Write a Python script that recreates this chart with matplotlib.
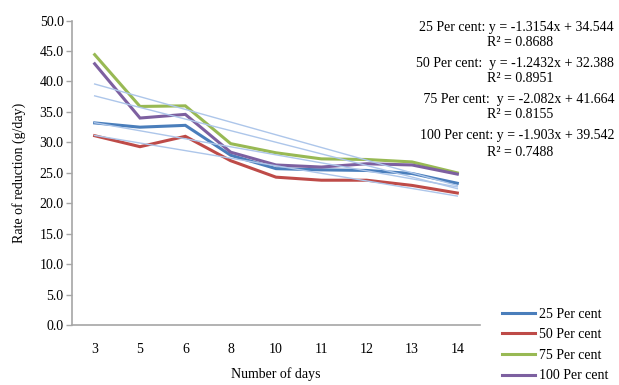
import matplotlib
matplotlib.use("Agg")
import matplotlib.pyplot as plt
import numpy as np

days = ["3", "5", "6", "8", "10", "11", "12", "13", "14"]
series_names = ["25 Per cent", "50 Per cent", "75 Per cent", "100 Per cent"]
s25 = [33.2, 32.5, 32.8, 27.9, 25.7, 25.5, 25.4, 24.9, 23.3]
s50 = [31.1, 29.3, 31.0, 27.0, 24.3, 23.8, 23.8, 22.95, 21.7]
s75 = [44.4, 35.9, 36.0, 29.8, 28.3, 27.3, 27.2, 26.8, 25.0]
s100 = [42.9, 34.0, 34.6, 28.4, 26.3, 25.96, 26.5, 26.3, 24.8]
slopes = [-1.3154, -1.2432, -2.082, -1.903]
intercepts = [34.544, 32.388, 41.664, 39.542]
r2 = ["0.8688", "0.8951", "0.8155", "0.7488"]
eq_labels = ["25 Per cent: y = -1.3154x + 34.544",
             "50 Per cent:  y = -1.2432x + 32.388",
             " 75 Per cent:  y = -2.082x + 41.664",
             "100 Per cent: y = -1.903x + 39.542"]

colors = ["#4a7ebb", "#be4b48", "#98b954", "#7d60a0"]
trend_color = "#adc6ea"

plt.rcParams['font.family'] = ['Liberation Serif', 'DejaVu Serif']
FS = 10

fig = plt.figure(figsize=(6.19, 3.85), dpi=100)
W, H = 619, 385
ax = fig.add_axes([72 / W, 1 - 325.3 / H, (480 - 72) / W, (325.3 - 20.5) / H])

x = np.arange(len(days))
all_series = [s25, s50, s75, s100]
lines = []
for s, c, n in zip(all_series, colors, series_names):
    l, = ax.plot(x, s, color=c, lw=2.2, label=n, zorder=3, solid_joinstyle='miter')
    lines.append(l)
xi = x + 1
for m, b in zip(slopes, intercepts):
    ax.plot(x, m * xi + b, color=trend_color, lw=1.0, zorder=4)

ax.set_xlim(-0.5, len(days) - 0.5)
ax.set_ylim(0, 50)
ax.set_yticks(np.arange(0, 50.1, 5))
ax.set_yticklabels([f"{v:.1f}" for v in np.arange(0, 50.1, 5)], fontsize=FS)
ax.set_xticks(x)
ax.set_xticklabels(days, fontsize=FS)
ax.tick_params(axis='x', length=0, pad=13)
ax.tick_params(axis='y', length=4, color='#a6a6a6', width=1, pad=2)
for sp in ["top", "right"]:
    ax.spines[sp].set_visible(False)
for sp in ["left", "bottom"]:
    ax.spines[sp].set_color('#a6a6a6')
    ax.spines[sp].set_linewidth(1.2)

ax.set_ylabel("Rate of reduction (g/day)", fontsize=FS, labelpad=10)
ax.set_xlabel("Number of days", fontsize=FS, labelpad=8)

eq_y = [28, 63, 100, 136]
r_y = [43, 78, 115, 152]
for lab, r, ey, ry in zip(eq_labels, r2, eq_y, r_y):
    fig.text(614 / W, 1 - ey / H, lab, ha='right', va='center', fontsize=FS)
    fig.text(520 / W, 1 - ry / H, f"R² = {r}", ha='center', va='center', fontsize=FS)

leg = fig.legend(handles=lines, loc='upper left', bbox_to_anchor=(496 / W, 1 - 302 / H),
                 frameon=False, fontsize=FS, handlelength=2.4, handletextpad=0.3,
                 labelspacing=0.55, borderaxespad=0)

fig.savefig("out.png", dpi=100)
